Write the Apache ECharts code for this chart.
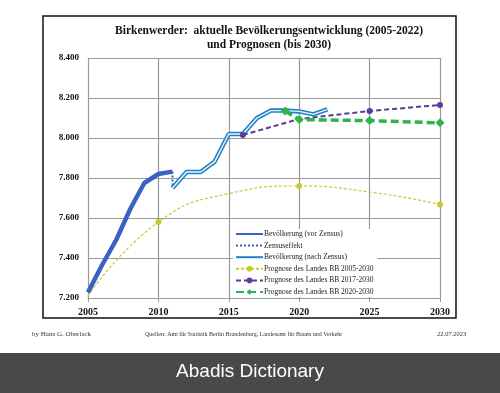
<!DOCTYPE html>
<html><head><meta charset="utf-8">
<script src="https://cdn.jsdelivr.net/npm/echarts@6/dist/echarts.min.js"></script>
<style>html,body{margin:0;padding:0;background:#fff;}#c{width:500px;height:393px;}</style>
</head><body><div id="c"></div>
<script>
// ---- data ----
const yearsVor = [2005, 2006, 2007, 2008, 2009, 2010, 2011];
const valuesVor = [7228, 7365, 7490, 7645, 7775, 7820, 7832];
const yearsZensus = [2011, 2011];
const valuesZensus = [7832, 7750];
const yearsNach = [2011, 2012, 2013, 2014, 2015, 2016, 2017, 2018, 2019, 2020, 2021, 2022];
const valuesNach = [7750, 7830, 7830, 7882, 8020, 8020, 8100, 8137, 8137, 8133, 8118, 8143];
const yearsP2005 = [2005, 2010, 2015, 2020, 2025, 2030];
const valuesP2005 = [7212, 7580, 7722, 7760, 7730, 7668];
const markP2005 = [2010, 2020, 2030];
const yearsP2017 = [2016, 2020, 2025, 2030];
const valuesP2017 = [8015, 8095, 8135, 8165];
const markP2017 = [2016, 2025, 2030];
const yearsP2020 = [2019, 2020, 2025, 2030];
const valuesP2020 = [8135, 8092, 8087, 8076];
const markP2020 = [2019, 2020, 2025, 2030];
const xTicks = [2005, 2010, 2015, 2020, 2025, 2030];
const yTicks = [7200, 7400, 7600, 7800, 8000, 8200, 8400];
const names = ['Bevölkerung (vor Zensus)', 'Zensuseffekt', 'Bevölkerung (nach Zensus)',
  'Prognose des Landes BB 2005-2030', 'Prognose des Landes BB 2017-2030', 'Prognose des Landes BB 2020-2030'];

const pairs = (xs, ys) => xs.map((x, i) => [x, ys[i]]);
const marked = (xs, ys, marks) => xs.map((x, i) => marks.includes(x) ? {value: [x, ys[i]]} : {value: [x, ys[i]], symbol: 'none'});
const fmt = v => String(v).replace(/(\d)(\d{3})$/, '$1.$2');
const serif = 'Liberation Serif';

const chart = echarts.init(document.getElementById('c'));
chart.setOption({
  animation: false,
  backgroundColor: '#fff',
  title: {
    text: 'Birkenwerder:  aktuelle Bevölkerungsentwicklung (2005-2022)\nund Prognosen (bis 2030)',
    left: 264, top: 19, textAlign: 'center',
    textStyle: {fontFamily: serif, fontWeight: 'bold', fontSize: 11.5, color: '#111', lineHeight: 14}
  },
  grid: {left: 88, right: 60, top: 58, bottom: 95},
  xAxis: {
    type: 'value', min: 2005, max: 2030, interval: 5,
    axisLine: {show: true, lineStyle: {color: '#999', width: 1.2}},
    axisTick: {show: true, length: 4, lineStyle: {color: '#999'}},
    splitLine: {show: true, lineStyle: {color: '#999', width: 1.2}},
    axisLabel: {fontFamily: serif, fontWeight: 'bold', fontSize: 10, color: '#111', margin: 9,
      formatter: v => xTicks.includes(v) ? String(v) : ''}
  },
  yAxis: {
    type: 'value', min: 7200, max: 8400, interval: 200,
    axisLine: {show: false}, axisTick: {show: false},
    splitLine: {show: true, lineStyle: {color: '#999', width: 1.2}},
    axisLabel: {fontFamily: serif, fontWeight: 'bold', fontSize: 9, color: '#111', margin: 9,
      formatter: v => yTicks.includes(v) ? fmt(v) : ''}
  },
  legend: {
    data: names.map((n, i) => i < 3 ? {name: n, itemStyle: {opacity: 0}} : {name: n}),
    orient: 'vertical', left: 233, top: 229,
    backgroundColor: '#fff', padding: [1, 4, 1, 2],
    itemWidth: 27, itemHeight: 7, itemGap: 3.6,
    textStyle: {fontFamily: serif, fontSize: 7.5, color: '#222', padding: [0, 0, 0, -4]}
  },
  series: [
    {name: names[0], type: 'line', data: pairs(yearsVor, valuesVor), showSymbol: false, symbol: 'none',
      lineStyle: {color: '#3a62c4', width: 4.5}, itemStyle: {color: '#3a62c4'}, z: 3},
    {name: names[1], type: 'line', data: pairs(yearsZensus, valuesZensus), symbol: 'none',
      lineStyle: {color: '#3a62c4', width: 2, type: [2, 2]}, itemStyle: {color: '#3a62c4'}, z: 3},
    {name: names[2], type: 'line', data: pairs(yearsNach, valuesNach), symbol: 'none',
      lineStyle: {color: '#2280c4', width: 4.5}, itemStyle: {color: '#2280c4'}, z: 3},
    {name: 'nach-inner', type: 'line', data: pairs(yearsNach, valuesNach), symbol: 'none',
      lineStyle: {color: '#eaf6ff', width: 1.4}, z: 4, tooltip: {show: false}},
    {name: names[3], type: 'line', smooth: 0.5, data: marked(yearsP2005, valuesP2005, markP2005),
      symbol: 'circle', symbolSize: 6,
      lineStyle: {color: '#c9c92e', width: 1.2, type: [3, 2]}, itemStyle: {color: '#c9c92e'}, z: 2},
    {name: names[4], type: 'line', data: marked(yearsP2017, valuesP2017, markP2017),
      symbol: 'circle', symbolSize: 6,
      lineStyle: {color: '#5b3a99', width: 2, type: [5, 3]}, itemStyle: {color: '#5b3a99'}, z: 5},
    {name: names[5], type: 'line', data: marked(yearsP2020, valuesP2020, markP2020),
      symbol: 'diamond', symbolSize: 9,
      lineStyle: {color: '#2fb24a', width: 3.5, type: [8, 4]}, itemStyle: {color: '#2fb24a'}, z: 6}
  ],
  graphic: [
    {type: 'rect', shape: {x: 43, y: 16, width: 413, height: 302}, style: {fill: 'none', stroke: '#111', lineWidth: 1.5}, z: 100},
    {type: 'text', left: 32, top: 331, style: {text: 'by Hans G. Oberlack', font: '7px "Liberation Serif"', fill: '#333'}},
    {type: 'text', left: 145, top: 331, style: {text: 'Quellen: Amt für Statistik Berlin Brandenburg, Landesamt für Bauen und Verkehr', font: '6px "Liberation Serif"', fill: '#333'}},
    {type: 'text', left: 437, top: 331, style: {text: '22.07.2023', font: '6.5px "Liberation Serif"', fill: '#333'}},
    {type: 'rect', shape: {x: 0, y: 353, width: 500, height: 40}, style: {fill: '#4a4849'}},
    {type: 'text', x: 250, y: 372, style: {text: 'Abadis Dictionary', font: '19px "Liberation Sans"', fill: '#fff', align: 'center', verticalAlign: 'middle'}}
  ]
});
</script></body></html>
